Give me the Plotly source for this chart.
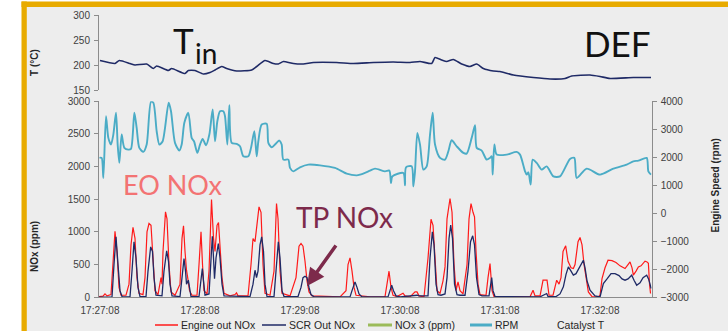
import pandas as pd
import plotly.graph_objects as go

# ---------------- data ----------------
BASE_TIME = "2014-05-20 17:27:08"

t_temp = [0, 9, 11.6, 18, 21, 28, 32, 34, 41, 43, 51, 53, 57, 62, 66, 69, 73, 76, 82, 91, 94, 99,
          104, 107, 110, 116, 122, 128, 142, 152, 164, 176, 186, 192, 199, 201, 205, 208, 212, 217,
          222, 226, 230, 236, 240, 248, 260, 270, 279, 283, 294, 300, 306, 320, 330.6]
temp_in = [209, 203, 209, 203, 200, 202, 193, 198, 189, 193, 183, 189, 189, 182, 185, 190, 197, 193,
           188, 190, 197, 209, 203, 202, 207, 203, 202, 205, 205, 203, 205, 206, 205, 207, 203, 215,
           210, 207, 211, 202, 197, 202, 193, 188, 187, 180, 175, 172, 173, 178, 180, 177, 173, 175, 175]

t_rpm = [-0.3, 1.0, 2.0, 3.6, 5.0, 6.6, 8.0, 9.6, 10.6, 11.6, 13.0, 14.6, 17.0, 18.6, 20.6, 22.0,
         23.6, 26.0, 28.0, 30.6, 32.0, 34.0, 35.6, 37.6, 41.2, 42.6, 45.0, 47.6, 49.0, 50.6, 53.0,
         55.0, 56.4, 58.4, 60.0, 61.6, 63.6, 65.6, 67.6, 69.0, 70.4, 72.0, 74.0, 75.0, 76.4, 77.6,
         79.0, 82.0, 84.0, 86.0, 89.0, 90.6, 92.6, 94.0, 95.0, 97.0, 100.0, 101.0, 103.0, 105.0,
         107.6, 109.0, 110.0, 113.0, 114.0, 116.0, 120.0, 125.0, 132.0, 141.0, 148.0, 154.0, 156.0,
         162.0, 165.0, 171.0, 173.6, 174.6, 175.4, 182.0, 183.0, 183.6, 187.0, 188.0, 189.0, 190.4,
         192.0, 194.0, 196.0, 198.0, 199.6, 201.0, 204.0, 207.0, 209.0, 211.0, 214.0, 218.0, 220.0,
         223.0, 225.0, 226.0, 229.0, 232.0, 234.0, 235.0, 235.6, 236.6, 238.0, 244.0, 250.0, 252.0,
         255.0, 256.0, 257.0, 258.4, 259.6, 262.0, 265.0, 268.0, 272.0, 276.0, 282.0, 284.6, 286.0,
         292.0, 300.0, 308.0, 316.0, 320.0, 323.0, 328.0, 329.0, 330.6]
rpm = [1975, 1975, 1259, 3463, 2690, 2451, 2809, 3585, 2451, 1796, 2809, 2333, 2272, 2300, 3585, 3048,
       2333, 2190, 2451, 3979, 3943, 2927, 2451, 2569, 3943, 3642, 2512, 2236, 2451, 3227, 3585,
       2690, 2569, 2154, 2451, 2655, 2426, 2809, 3703, 2569, 3284, 3642, 3642, 3463, 2451, 3857,
       2512, 2476, 2390, 2032, 2032, 2333, 2927, 2032, 2569, 3166, 3191, 2512, 2354, 2451,
       2594, 2451, 1914, 1914, 1617, 1495, 1639, 1735, 1710, 1617, 1413, 1352, 1377,
       1520, 1592, 1495, 1520, 1080, 1316, 1438, 994, 1639, 1674, 959, 1495, 2869,
       2451, 1556, 1674, 2809, 3585, 2451, 1975, 1914, 2211, 2605, 2390, 2154, 2129,
       2690, 3141, 2333, 2236, 1914, 1975, 2032, 1377, 2451, 2093, 2093, 2190, 2093,
       1495, 1377, 1460, 1020, 1914, 1796, 1556, 1674, 1316, 1316, 1939, 1975, 1259,
       1592, 1377, 1592, 1735, 1853, 1878, 1975, 1495, 1377]

t_eo = [-0.6, 1.8, 3.0, 4.2, 6.6, 7.8, 9.0, 10.2, 11.4, 12.6, 15.6, 17.4, 18.6, 19.8, 21.0, 22.2,
        23.4, 25.8, 27.0, 28.2, 29.4, 30.6, 31.8, 33.0, 34.8, 36.6, 37.2, 37.8, 39.3, 40.2, 41.4,
        42.6, 45.0, 48.0, 49.2, 50.1, 51.0, 51.9, 52.8, 53.7, 55.2, 58.2, 59.4, 60.6, 61.5, 62.4,
        64.2, 65.4, 66.9, 68.1, 69.0, 70.2, 71.1, 72.0, 73.2, 74.4, 78.0, 81.0, 81.9, 82.8, 88.8,
        90.6, 91.8, 93.0, 94.2, 95.4, 96.6, 97.8, 99.0, 102.0, 104.4, 105.9, 106.8, 108.0, 109.2,
        114.0, 117.6, 119.4, 120.6, 121.8, 123.0, 124.2, 125.4, 127.2, 144.0, 147.6, 148.8, 150.0,
        151.2, 152.4, 153.6, 162.0, 171.0, 172.2, 173.4, 174.6, 175.8, 178.2, 181.8, 183.0, 186.0,
        189.0, 190.2, 191.4, 194.4, 196.8, 198.6, 199.8, 201.0, 202.2, 204.0, 205.8, 207.0, 208.2,
        210.0, 211.2, 212.4, 213.6, 214.8, 216.0, 217.8, 220.2, 221.4, 222.6, 223.8, 224.7, 225.6,
        226.8, 228.0, 231.6, 232.8, 234.0, 235.2, 236.4, 258.0, 259.8, 261.0, 264.0, 265.8, 268.2,
        269.4, 271.8, 274.0, 275.4, 276.6, 277.8, 279.4, 280.8, 282.6, 284.0, 285.0, 286.8, 288.0,
        289.2, 290.4, 291.6, 293.0, 295.2, 298.8, 300.0, 301.2, 303.0, 304.8, 307.2, 309.6, 312.0,
        315.0, 316.8, 318.0, 319.2, 320.0, 321.6, 323.0, 324.6, 327.0, 328.2, 329.0, 329.7, 330.3]
eo_nox = [10, 15, 50, 20, 40, 600, 1010, 700, 150, 30, 30, 200, 800, 1070, 900, 300,
          60, 40, 300, 1000, 1128, 1100, 600, 100, 40, 300, 200, 700, 1306, 1200, 500,
          80, 30, 200, 900, 1092, 700, 413, 270, 100, 30, 30, 500, 1000, 500, 100,
          50, 400, 1496, 900, 700, 1100, 1143, 800, 300, 60, 20, 40, 66, 20, 20,
          500, 898, 850, 1100, 1383, 1300, 500, 60, 30, 400, 1434, 1200, 400, 60,
          20, 300, 780, 822, 780, 550, 250, 80, 20, 5, 100, 500, 602,
          400, 150, 30, 5, 10, 200, 398, 150, 30, 10, 61, 20, 5,
          81, 81, 20, 5, 600, 1194, 1100, 500, 100, 60, 250, 464, 1200,
          1511, 1300, 500, 100, 234, 100, 50, 500, 1200, 1434, 1300, 1230, 700,
          200, 40, 30, 300, 515, 100, 10, 5, 107, 20, 20, 260, 260,
          30, 30, 260, 200, 300, 700, 786, 550, 450, 439, 500, 850, 914,
          800, 500, 300, 81, 10, 5, 30, 286, 450, 566, 560, 530, 480,
          439, 500, 541, 450, 337, 400, 464, 480, 551, 540, 520, 200, 56]

t_scr = [-0.6, 7.2, 8.4, 9.6, 10.8, 12.0, 13.2, 18.0, 19.2, 20.4, 21.6, 22.8, 24.0, 27.6, 28.8, 30.4,
         31.5, 32.4, 33.6, 37.2, 38.4, 40.0, 41.1, 42.0, 43.2, 48.0, 49.2, 50.4, 51.3, 51.9, 53.0,
         53.7, 54.6, 59.4, 60.6, 61.4, 62.1, 63.0, 65.4, 66.3, 67.4, 68.1, 68.7, 69.6, 71.0, 72.0,
         73.2, 74.4, 90.0, 91.8, 93.0, 93.9, 94.8, 96.0, 97.0, 98.1, 99.0, 100.2, 104.4, 105.6,
         107.0, 108.0, 109.2, 110.4, 118.8, 120.6, 121.8, 123.0, 124.2, 125.4, 126.6, 128.4, 150.0,
         151.2, 153.0, 154.2, 155.4, 157.2, 172.8, 174.0, 175.0, 176.1, 177.6, 180.0, 190.2, 191.4,
         196.8, 198.0, 199.4, 200.4, 201.6, 202.8, 204.6, 207.0, 208.2, 209.4, 210.4, 211.5, 212.7,
         214.2, 216.0, 219.0, 220.8, 222.3, 223.6, 224.7, 225.9, 227.4, 229.2, 233.4, 235.0, 235.8,
         237.0, 264.0, 268.0, 268.8, 273.6, 276.0, 278.0, 279.6, 281.0, 282.6, 284.0, 285.6, 287.4,
         290.0, 291.0, 292.2, 294.0, 297.0, 300.0, 300.9, 302.0, 304.2, 306.6, 309.0, 311.4, 313.2,
         315.0, 316.8, 319.0, 320.4, 322.0, 324.0, 325.8, 328.0, 329.1, 330.0, 330.6]
scr_nox = [0, 0, 500, 923, 500, 100, 10, 5, 400, 847, 600, 150, 10, 10, 400, 770,
           700, 300, 30, 20, 400, 709, 550, 200, 20, 10, 300, 592, 400, 200, 260,
           120, 10, 10, 300, 439, 250, 30, 50, 500, 934, 600, 283, 600, 822, 600,
           200, 20, 10, 200, 413, 300, 400, 800, 923, 700, 200, 10, 10, 400,
           847, 600, 100, 10, 10, 150, 300, 321, 300, 150, 40, 5, 5,
           100, 234, 150, 50, 5, 5, 100, 184, 100, 20, 5, 30, 20,
           20, 600, 1000, 800, 200, 40, 30, 50, 300, 900, 1102, 900, 200,
           40, 30, 30, 400, 850, 939, 800, 300, 40, 20, 20, 301, 100,
           10, 5, 56, 10, 10, 50, 158, 350, 464, 400, 337, 360, 450,
           566, 450, 250, 107, 20, 5, 100, 209, 280, 362, 360, 330, 280,
           260, 280, 337, 260, 184, 220, 300, 337, 280, 200, 133]

legend_names = ["Engine out NOx", "SCR Out NOx", "NOx 3 (ppm)", "RPM", "Catalyst T"]
legend_colors = ["#ff1a1a", "#1f2a66", "#9bbb59", "#4bacc6", "rgba(0,0,0,0)"]

# ---------------- helpers ----------------
W, H = 728, 331
base = pd.Timestamp(BASE_TIME)


def ts(secs):
    return [base + pd.Timedelta(seconds=float(s)) for s in secs]


def px(xp):
    return xp / W


def py(yp):
    return 1 - yp / H


AX_COL = "#8c8c8c"
TICK_FONT = dict(family="Liberation Sans, Arial", size=10, color="#404040")

fig = go.Figure()
fig.add_trace(go.Scatter(x=ts(t_temp), y=temp_in, xaxis="x", yaxis="y", mode="lines",
                         line=dict(color="#1f2a66", width=1.6, shape="spline", smoothing=0.5),
                         name="T in"))
fig.add_trace(go.Scatter(x=ts(t_eo), y=eo_nox, xaxis="x", yaxis="y2", mode="lines",
                         line=dict(color=legend_colors[0], width=1.2), name=legend_names[0]))
fig.add_trace(go.Scatter(x=ts(t_scr), y=scr_nox, xaxis="x", yaxis="y2", mode="lines",
                         line=dict(color=legend_colors[1], width=1.3), name=legend_names[1]))
fig.add_trace(go.Scatter(x=ts(t_rpm), y=rpm, xaxis="x", yaxis="y3", mode="lines",
                         line=dict(color=legend_colors[3], width=1.9, shape="spline", smoothing=0.7),
                         name=legend_names[3]))

x0p, x1p = 99, 651.7
common_y = dict(showline=True, linecolor=AX_COL, ticks="outside", ticklen=4, tickcolor=AX_COL,
                showgrid=False, zeroline=False, tickfont=TICK_FONT, automargin=False,
                ticklabelstandoff=2)
fig.update_layout(
    template="none",
    width=W, height=H, autosize=False, margin=dict(l=0, r=0, t=0, b=0, pad=0),
    paper_bgcolor="white", plot_bgcolor="rgba(0,0,0,0)", showlegend=False,
    xaxis=dict(domain=[px(x0p), px(x1p)], anchor="y2", type="date",
               range=[ts([-0.6])[0], ts([331.0])[0]], tick0=ts([0])[0], dtick=60000,
               tickformat="%H:%M:%S", showline=True, linecolor=AX_COL, linewidth=1,
               ticks="", showgrid=False, zeroline=False, tickfont=TICK_FONT, automargin=False,
               ticklabelstandoff=4),
    yaxis=dict(domain=[py(90), py(15)], anchor="x", range=[150, 300], dtick=50, **common_y),
    yaxis2=dict(domain=[py(297.2), py(101.2)], anchor="x", range=[0, 3000], dtick=500, **common_y),
    yaxis3=dict(overlaying="y2", side="right", anchor="x", range=[-3000, 4000], dtick=1000, **common_y),
)

shapes = [
    dict(type="rect", xref="paper", yref="paper", x0=px(26), x1=1, y0=0, y1=py(6.5),
         fillcolor="#ededed", line=dict(width=0), layer="below"),
    dict(type="rect", xref="paper", yref="paper", x0=px(21.5), x1=px(26.8), y0=0, y1=py(1.5),
         fillcolor="#e8ab00", line=dict(width=0), layer="below"),
    dict(type="rect", xref="paper", yref="paper", x0=px(21.5), x1=1, y0=py(7), y1=py(1.5),
         fillcolor="#e8ab00", line=dict(width=0), layer="below"),
]

ann = []
# axis titles
ann.append(dict(x=px(27), y=py(47), xref="paper", yref="paper", text="<b>T (°C)</b>", textangle=-90,
                showarrow=False, font=dict(family="Liberation Sans, Arial", size=10, color="#262626")))
ann.append(dict(x=px(27), y=py(274), xref="paper", yref="paper", text="<b>NOx (ppm)</b>", textangle=-90,
                showarrow=False, font=dict(family="Liberation Sans, Arial", size=10, color="#262626")))
ann.append(dict(x=px(722), y=py(186), xref="paper", yref="paper", text="<b>Engine Speed (rpm)</b>",
                textangle=-90, showarrow=False,
                font=dict(family="Liberation Sans, Arial", size=10, color="#262626")))

# legend (manual)
leg_line_x = [(155, 178), (262, 286), (368, 392), (470, 492), (530, 553)]
leg_text_x = [179, 287, 393, 493, 555]
for name, col, (a, b), tx in zip(legend_names, legend_colors, leg_line_x, leg_text_x):
    if name != "Catalyst T":
        shapes.append(dict(type="line", xref="paper", yref="paper", x0=px(a), x1=px(b),
                           y0=py(325), y1=py(325),
                           line=dict(color=col, width=3 if name in ("NOx 3 (ppm)", "RPM") else 1.5)))
    ann.append(dict(x=px(tx), y=py(325), xref="paper", yref="paper", text=name, showarrow=False,
                    xanchor="left", yanchor="middle",
                    font=dict(family="Liberation Sans, Arial", size=10.5, color="#262626")))

# big labels
BIG = "Lato, Open Sans, sans-serif"
ann.append(dict(x=px(171), y=py(40), xref="paper", yref="paper", text="T", showarrow=False,
                xanchor="left", yanchor="middle", font=dict(family=BIG, size=35, color="#111111")))
ann.append(dict(x=px(193), y=py(53), xref="paper", yref="paper", text="in", showarrow=False,
                xanchor="left", yanchor="middle", font=dict(family=BIG, size=28, color="#111111")))
ann.append(dict(x=px(582), y=py(43), xref="paper", yref="paper", text="DEF", showarrow=False,
                xanchor="left", yanchor="middle", font=dict(family=BIG, size=35, color="#111111")))
ann.append(dict(x=px(121), y=py(184.5), xref="paper", yref="paper", text="EO NOx", showarrow=False,
                xanchor="left", yanchor="middle", font=dict(family=BIG, size=27, color="#f37373")))
ann.append(dict(x=px(294), y=py(216.5), xref="paper", yref="paper", text="TP NOx", showarrow=False,
                xanchor="left", yanchor="middle", font=dict(family=BIG, size=28, color="#7d2a4b")))
ann.append(dict(x=px(307), y=py(286), xref="paper", yref="paper", text="", showarrow=True,
                ax=30, ay=-42, arrowcolor="#7d2a4b", arrowwidth=3.5, arrowhead=2, arrowsize=1.0))

fig.update_layout(shapes=shapes, annotations=ann)
fig.write_html("out.html")
